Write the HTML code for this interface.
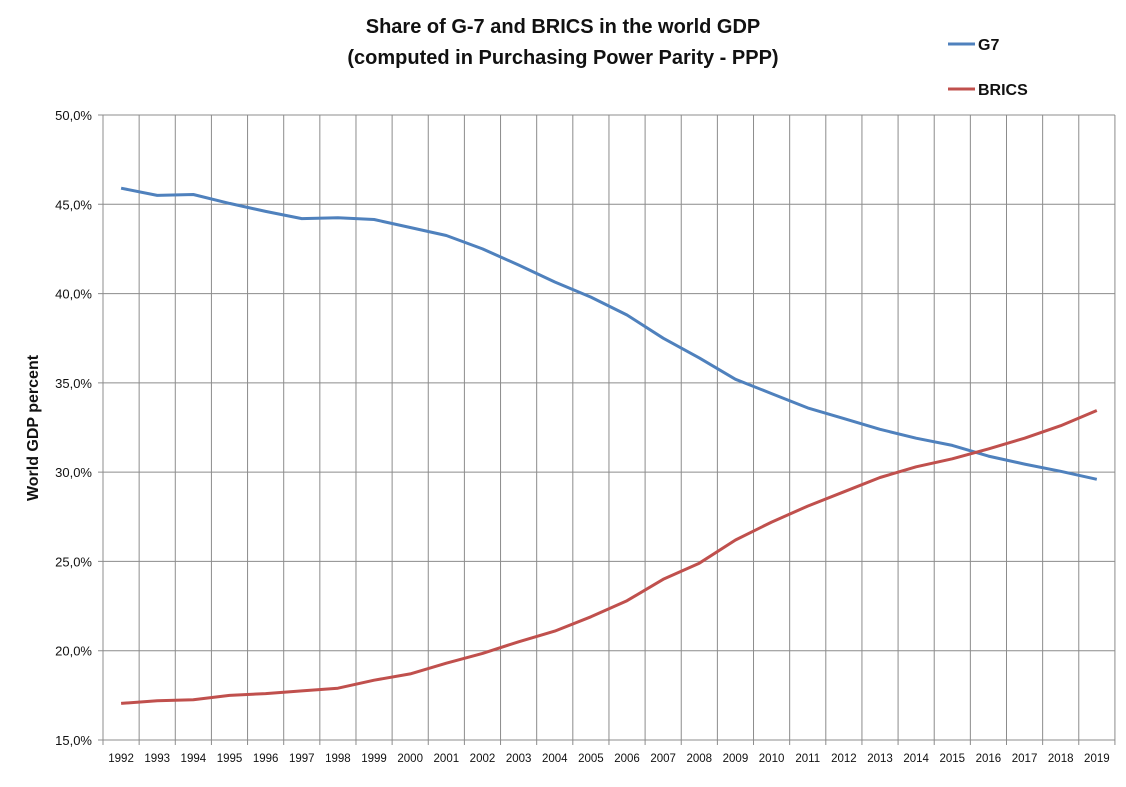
<!DOCTYPE html>
<html><head><meta charset="utf-8"><style>
html,body{margin:0;padding:0;background:#fff;}
svg text{font-family:"Liberation Sans",Calibri,sans-serif;}
</style></head><body>
<svg id="c" width="1126" height="782" xmlns="http://www.w3.org/2000/svg">
<rect width="1126" height="782" fill="#fff"/>
<text x="563" y="33" text-anchor="middle" font-size="20" font-weight="bold" fill="#111">Share of G-7 and BRICS in the world GDP</text>
<text x="563" y="64" text-anchor="middle" font-size="20" font-weight="bold" fill="#111">(computed in Purchasing Power Parity - PPP)</text>
<line x1="948" y1="44" x2="975" y2="44" stroke="#4F81BD" stroke-width="3"/>
<text x="978" y="50" font-size="16" font-weight="bold" fill="#111">G7</text>
<line x1="948" y1="89" x2="975" y2="89" stroke="#C0504D" stroke-width="3"/>
<text x="978" y="95" font-size="16" font-weight="bold" fill="#111">BRICS</text>
<text transform="translate(38,428) rotate(-90)" text-anchor="middle" font-size="16" font-weight="bold" fill="#111">World GDP percent</text>
<g id="grid"></g>
<g id="ser"></g>
</svg>
<script>
var g=document.getElementById('grid'),s=document.getElementById('ser'),ns='http://www.w3.org/2000/svg';
function el(p,t,a,txt){var e=document.createElementNS(ns,t);for(var k in a)e.setAttribute(k,a[k]);if(txt)e.textContent=txt;p.appendChild(e);return e;}
var L=103,W=36.14,R=L+28*W,T=115,B=740;
function y(v){return B-(v-15)*17.857;}
for(var i=0;i<=7;i++){var yy=y(15+5*i);el(g,'line',{x1:L-5,y1:yy,x2:R,y2:yy,stroke:'#8c8c8c','stroke-width':1});
el(g,'text',{x:L-11,y:yy+5,'text-anchor':'end','font-size':13,fill:'#111'},(15+5*i)+',0%');}
for(var i=0;i<=28;i++){var xx=L+i*W;el(g,'line',{x1:xx,y1:T,x2:xx,y2:B+5,stroke:'#8c8c8c','stroke-width':1});}
for(var i=0;i<28;i++){el(g,'text',{x:L+W*(i+0.5),y:762,'text-anchor':'middle','font-size':11.5,fill:'#111'},''+(1992+i));}
var g7=[45.9,45.5,45.55,45.05,44.6,44.2,44.25,44.15,43.7,43.25,42.5,41.6,40.65,39.8,38.8,37.5,36.4,35.2,34.4,33.6,33.0,32.4,31.9,31.5,30.9,30.45,30.05,29.6];
var br=[17.05,17.2,17.25,17.5,17.6,17.75,17.9,18.35,18.7,19.3,19.85,20.5,21.1,21.9,22.8,24.0,24.9,26.2,27.2,28.1,28.9,29.7,30.3,30.75,31.3,31.9,32.6,33.45];
function pl(d,c){el(s,'polyline',{points:d.map(function(v,i){return (L+W*(i+0.5)).toFixed(1)+','+y(v).toFixed(1);}).join(' '),fill:'none',stroke:c,'stroke-width':3,'stroke-linejoin':'round'});}
pl(g7,'#4F81BD');pl(br,'#C0504D');
</script>
</body></html>
